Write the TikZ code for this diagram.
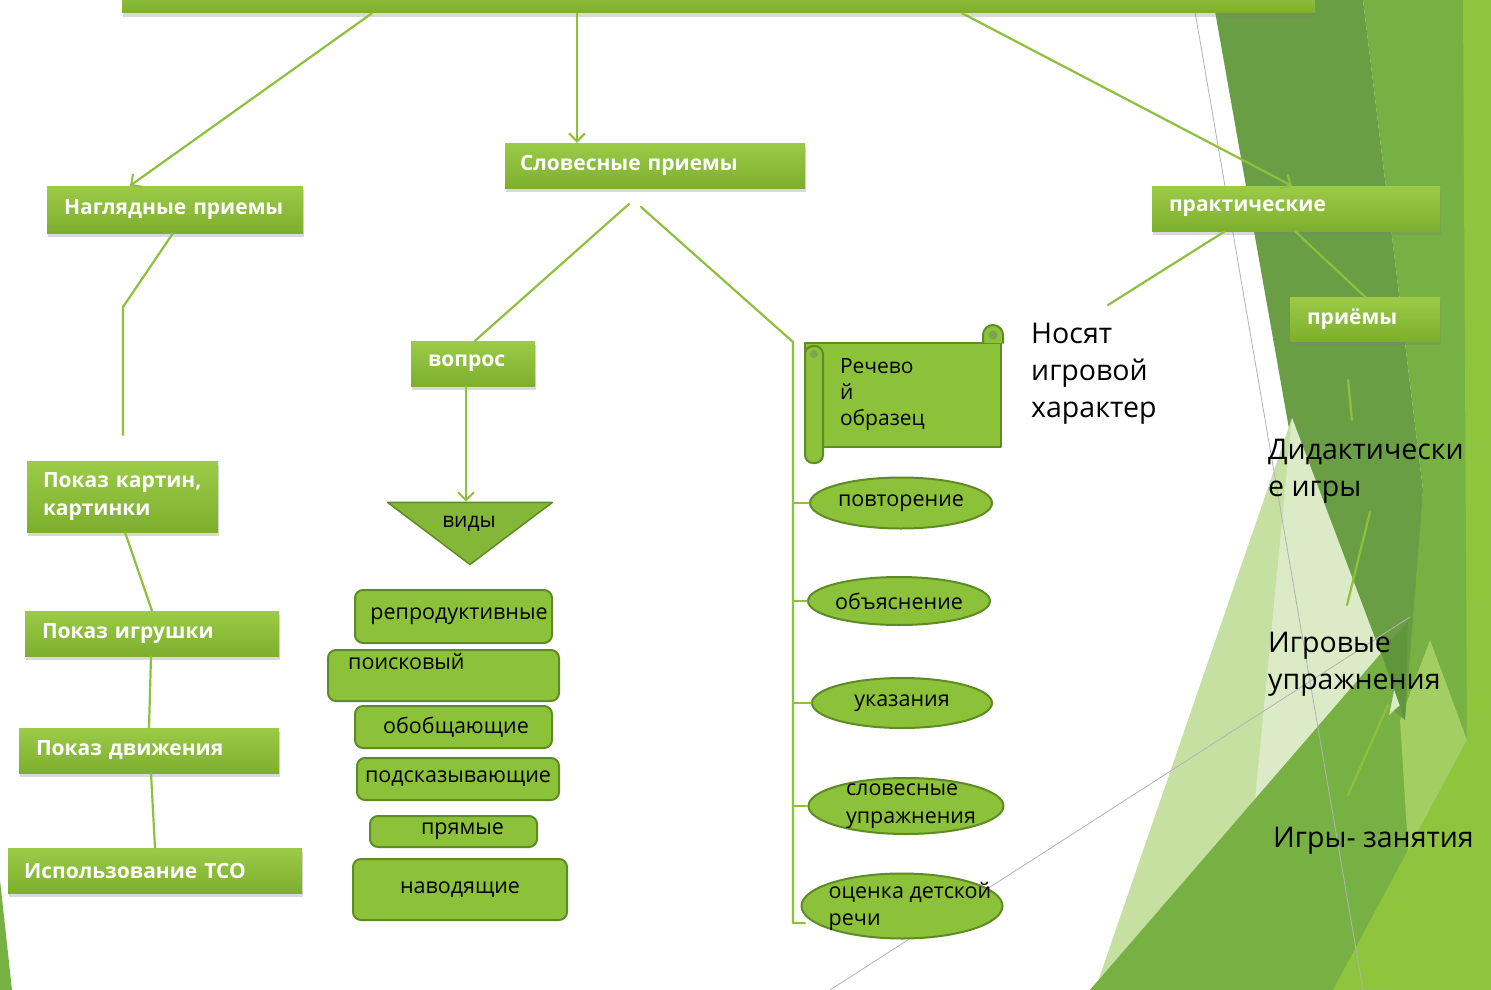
\documentclass[tikz,border=0pt]{standalone}
\usepackage{fontspec}
\setmainfont{Open Sans}
\usetikzlibrary{arrows.meta,shadows,shapes.geometric,positioning}

\definecolor{lineGreen}{HTML}{8DC03D}
\definecolor{boxTop}{HTML}{9BCB47}
\definecolor{boxBot}{HTML}{7DAF2E}
\definecolor{itemFill}{HTML}{8CC23A}
\definecolor{itemDraw}{HTML}{5E8B24}
\definecolor{bgDark}{HTML}{6A9E45}
\definecolor{bgMid}{HTML}{78B143}
\definecolor{bgLime}{HTML}{8FC53D}
\definecolor{bgSoft}{HTML}{A2CE62}
\definecolor{bgPale}{HTML}{DCEBC7}
\definecolor{bgLight}{HTML}{C6E0A2}
\definecolor{bgDeep}{HTML}{5F963C}

\tikzset{
  conn/.style={draw=lineGreen, line width=2.2pt},
  gbox/.style={rectangle, top color=boxTop, bottom color=boxBot, draw=none,
    text=white, font=\fontsize{21}{26}\selectfont\bfseries, inner xsep=17pt,
    align=left, drop shadow={opacity=0.3, shadow xshift=1pt, shadow yshift=-4pt}},
  rbox/.style={rectangle, rounded corners=8pt, fill=itemFill, draw=itemDraw,
    line width=2pt, font=\fontsize{21.5}{25}\selectfont},
  ell/.style={ellipse, fill=itemFill, draw=itemDraw, line width=2pt,
    inner sep=0pt},
  every label/.style={font=\fontsize{21.5}{25}\selectfont},
  bigtxt/.style={anchor=north west, align=left, inner sep=0pt,
    font=\fontsize{28.5}{37}\selectfont},
}

\begin{document}
\begin{tikzpicture}[x=1pt, y=-1pt, line join=round, line cap=round,
  >={Straight Barb[length=8pt,width=16pt,line width=2pt]}]
\useasboundingbox (0,0) rectangle (1491,990);
\clip (0,0) rectangle (1491,990);

% background shapes
\fill[bgMid] (1363,0)--(1491,0)--(1491,990)--(1090,990)--(1408,622)--(1423,490)--cycle;
\fill[bgSoft] (1430,640)--(1467,740)--(1410,880)--(1400,720)--cycle;
\fill[bgLime] (1463,0)--(1491,0)--(1491,990)--(1333,990)--(1467,740)--cycle;
\fill[bgDark] (1213,0)--(1363,0)--(1423,490)--(1405,720)--(1330,660)--cycle;
\fill[bgLight] (1292,418)--(1400,705)--(1095,990)--cycle;
\fill[bgPale] (1292,418)--(1400,705)--(1255,800)--cycle;
\fill[bgMid] (1090,990)--(1408,622)--(1333,990)--cycle;
\fill[bgDeep] (1380,650)--(1408,622)--(1405,720)--cycle;
\fill[bgMid] (0,880)--(12,990)--(0,990)--cycle;
\draw[gray!60, line width=0.8pt] (1193,0)--(1363,990) (830,990)--(1410,617);

% title bar
\node[gbox, minimum width=1193pt, minimum height=30pt] (title) at (718.5,-2) {};

% first level
\node[gbox, minimum width=256pt, minimum height=47pt, text width=222pt] (nagl) at (175,209.5) {Наглядные приемы};
\node[gbox, minimum width=300pt, minimum height=45pt, text width=270pt, inner xsep=15pt] (slov) at (655,165.5) {Словесные приемы};
\node[gbox, minimum width=288pt, minimum height=45pt, text width=254pt] (prakt) at (1296,208.5) {практические};
\node[gbox, minimum width=150pt, minimum height=44pt, text width=116pt] (priem) at (1365,319) {приёмы};

\draw[conn,->] (372,0 |- title.south) -- (130,0 |- nagl.north);
\draw[conn,->] (577,0 |- title.south) -- (577,0 |- slov.north);
\draw[conn,->] (962,0 |- title.south) -- (1292,0 |- prakt.north);

% visual column
\node[gbox, minimum width=191pt, minimum height=71pt, text width=159pt, inner xsep=16pt,
  font=\fontsize{21}{28}\selectfont\bfseries] (kart) at (122.5,496.5) {Показ картин,\\картинки};
\node[gbox, minimum width=252pt, minimum height=45pt, text width=220pt] (igr) at (152,633.5) {Показ игрушки};
\node[gbox, minimum width=258pt, minimum height=45pt, text width=226pt] (dvizh) at (149,750.5) {Показ движения};
\node[gbox, minimum width=294pt, minimum height=45pt, text width=262pt, inner xsep=15pt] (tso) at (155,870.5) {Использование ТСО};

\coordinate (n1) at (123,307);
\coordinate (n2) at (123,435);
\draw[conn] (173,0 |- nagl.south) -- (n1) -- (n2);
\draw[conn] (125,0 |- kart.south) -- (152,0 |- igr.north);
\draw[conn] (151,0 |- igr.south) -- (149,0 |- dvizh.north);
\draw[conn] (151,0 |- dvizh.south) -- (155,0 |- tso.north);

% question column
\node[gbox, minimum width=124pt, minimum height=45pt, text width=90pt] (vopr) at (473,363.5) {вопрос};
\node[draw=itemDraw, fill=itemFill!94!black, line width=1.5pt, isosceles triangle,
  isosceles triangle apex angle=106, shape border rotate=-90, inner sep=0pt,
  minimum height=62pt] (vidy) at (470,530) {};
\node[font=\fontsize{21}{25}\selectfont] at (469,524) {виды};

\node[rbox, minimum width=197pt, minimum height=53pt] (repr) at (453.5,616.5) {\hspace*{11pt}репродуктивные};
\node[rbox, minimum width=231pt, minimum height=51pt,
  label={[anchor=north west, inner sep=0pt, xshift=21pt, yshift=-4pt]north west:поисковый}] (poisk) at (443.5,675.5) {};
\node[rbox, minimum width=197pt, minimum height=42pt] (obob) at (453.5,727) {\hspace*{5pt}обобщающие};
\node[rbox, minimum width=202pt, minimum height=42pt] (podsk) at (458,779) {подсказывающие};
\node[rbox, minimum width=167pt, minimum height=31pt] (pryam) at (453.5,831.5) {\hspace*{18pt}прямые};
\node[rbox, minimum width=214pt, minimum height=61pt] (navod) at (460,889.5) {наводящие};

\coordinate (s1) at (629,204);
\coordinate (s2) at (641,207);
\coordinate (s3) at (793,342);
\coordinate (s4) at (793,923);
\draw[conn] (s1) -- (475,0 |- vopr.north);
\draw[conn,->] (466,0 |- vopr.south) -- (vidy.north -| 466,0);
\draw[conn] (s2) -- (s3) -- (s4) -- (805,923);

% speech column
\node[rectangle, fill=itemFill, draw=itemDraw, line width=2pt, minimum width=196pt,
  minimum height=104pt, text width=126pt, align=left, inner xsep=0pt,
  font=\fontsize{21}{26}\selectfont] (obraz) at (903,395) {Речево\\й\\образец};
\filldraw[fill=itemFill, draw=itemDraw, line width=2pt] (983,343) -- (983,335)
  arc[start angle=180, end angle=360, radius=10] -- (1003,343);
\fill[itemDraw!80] (993,335) circle (4.5);
\filldraw[fill=itemFill, draw=itemDraw, line width=2pt, rounded corners=8pt]
  (805,346) rectangle (823,463);
\fill[itemDraw!80] (814,354) circle (4);

\node[ell, minimum width=182pt, minimum height=51pt, label=center:повторение] (povt) at (901,503) {};
\node[ell, minimum width=182pt, minimum height=48pt, label=center:объяснение] (obyas) at (899,601) {};
\node[ell, minimum width=180pt, minimum height=50pt, label=center:указания] (ukaz) at (902,703) {};
\node[ell, minimum width=195pt, minimum height=56pt,
  label={[align=left, xshift=5pt, font=\fontsize{21.5}{28}\selectfont]center:словесные\\упражнения}] (slupr) at (906,806) {};
\node[ell, minimum width=201pt, minimum height=65pt,
  label={[align=left, xshift=8pt, font=\fontsize{21.5}{27}\selectfont]center:оценка детской\\речи}] (ocen) at (902,906) {};

\foreach \n in {povt,obyas,ukaz,slupr}
  \draw[conn, line width=1.5pt] (s3 |- \n.west) -- (\n.west);

% practical column
\node[bigtxt] (nosyat) at (1031,323) {Носят\\игровой\\характер};
\node[bigtxt] (didakt) at (1268,439) {Дидактически\\е игры};
\node[bigtxt] (igrupr) at (1268,632) {Игровые\\упражнения};
\node[bigtxt] (igrzan) at (1273,827) {Игры- занятия};

\draw[conn] (1225,0 |- prakt.south) -- (1108,305);
\draw[conn] (1295,0 |- prakt.south) -- (1365,0 |- priem.north);
\draw[conn] (1348,380) -- (1352,420);
\draw[conn] (1370,512) -- (1347,605);
\draw[conn] (1388,705) -- (1348,795);
\end{tikzpicture}
\end{document}
